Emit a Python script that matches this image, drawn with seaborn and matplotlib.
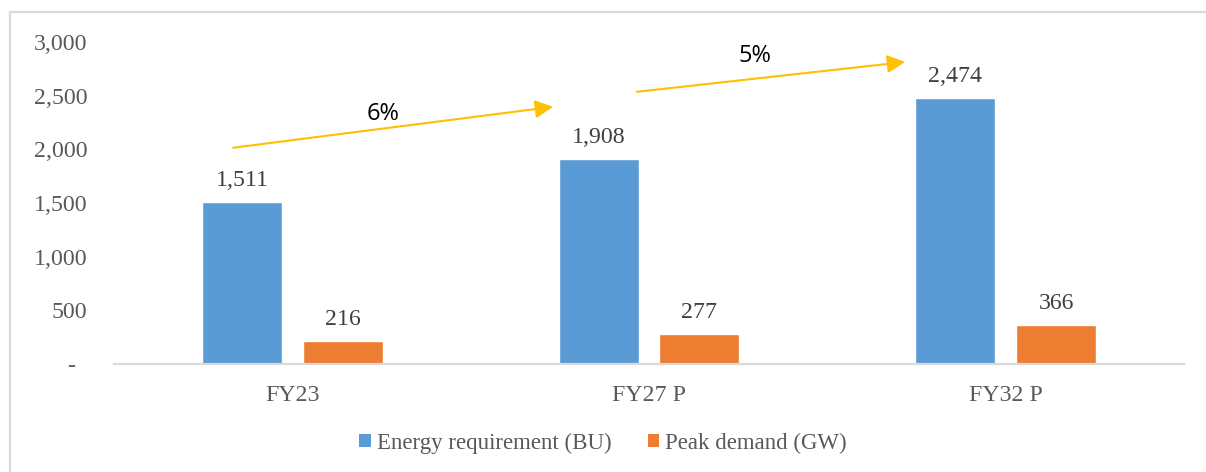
import matplotlib
matplotlib.use("Agg")
import matplotlib.pyplot as plt
import matplotlib.ticker as mticker
from matplotlib.lines import Line2D
from matplotlib.patches import Patch
import pandas as pd
import seaborn as sns

# Data
categories = ["FY23", "FY27 P", "FY32 P"]
series_names = ["Energy requirement (BU)", "Peak demand (GW)"]
energy_bu = [1511, 1908, 2474]
peak_gw = [216, 277, 366]
growth_labels = ["6%", "5%"]
y_ticks = [0, 500, 1000, 1500, 2000, 2500, 3000]

colors = ["#5B9BD5", "#ED7D31"]
text_grey = "#595959"

df = pd.DataFrame({
    "period": categories * 2,
    "series": [series_names[0]] * 3 + [series_names[1]] * 3,
    "value": energy_bu + peak_gw,
})

sns.set_style("white")
plt.rcParams["font.family"] = ["Liberation Serif", "DejaVu Serif"]

fig = plt.figure(figsize=(12.06, 4.72), dpi=100)
ax = fig.add_axes([114 / 1206, 1 - 364 / 472, (1184 - 114) / 1206, (364 - 42) / 472])

sns.barplot(data=df, x="period", y="value", hue="series", order=categories,
            hue_order=series_names, palette=colors, width=0.566, gap=0.208,
            saturation=1, ax=ax, legend=False)

for container in ax.containers:
    ax.bar_label(container, labels=[f"{v:,.0f}" for v in container.datavalues],
                 padding=8, fontsize=17.2, color="#404040")

ax.set_ylim(0, 3000)
ax.set_xlim(-0.5, 2.5)
ax.set_yticks(y_ticks)
ax.yaxis.set_major_formatter(mticker.FuncFormatter(
    lambda v, p: "-\u2007" if v == 0 else f"{v:,.0f}"))
ax.tick_params(axis="y", length=0, pad=19, labelsize=17.2, labelcolor=text_grey)
ax.tick_params(axis="x", length=0, pad=15, labelsize=17.2, labelcolor=text_grey)
ax.set_xlabel("")
ax.set_ylabel("")
for side in ["top", "right", "left"]:
    ax.spines[side].set_visible(False)
ax.spines["bottom"].set_color("#D9D9D9")
ax.spines["bottom"].set_linewidth(1.6)

# Growth arrows between periods
arrow_kw = dict(arrowstyle="-|>,head_length=0.6,head_width=0.3", color="#FFC000",
                lw=1.5, mutation_scale=18, shrinkA=0, shrinkB=0)
ax.annotate("", xy=(0.731, 2396), xytext=(-0.166, 2015), arrowprops=arrow_kw,
            annotation_clip=False)
ax.annotate("", xy=(1.718, 2814), xytext=(0.966, 2536), arrowprops=arrow_kw,
            annotation_clip=False)
ax.text(0.254, 2331, growth_labels[0], ha="center", va="center", fontsize=17,
        family=["Open Sans", "DejaVu Sans"], color="black")
ax.text(1.297, 2870, growth_labels[1], ha="center", va="center", fontsize=17,
        family=["Open Sans", "DejaVu Sans"], color="black")

# Legend
handles = [Patch(facecolor=c, edgecolor="none") for c in colors]
fig.legend(handles, series_names, loc="center", bbox_to_anchor=(0.5, 1 - 443 / 472),
           ncol=2, frameon=False, fontsize=16.5, handlelength=0.5, handleheight=0.5,
           handletextpad=0.25, columnspacing=1.6, labelcolor=text_grey)

# Chart border: top and left edges only, running off the canvas
x0, y0 = 10 / 1206, 1 - 12 / 472
fig.lines.append(Line2D([x0, 1.05], [y0, y0], transform=fig.transFigure,
                        color="#D9D9D9", lw=1.6))
fig.lines.append(Line2D([x0, x0], [y0, -0.05], transform=fig.transFigure,
                        color="#D9D9D9", lw=1.6))

fig.savefig("out.png", dpi=100)
